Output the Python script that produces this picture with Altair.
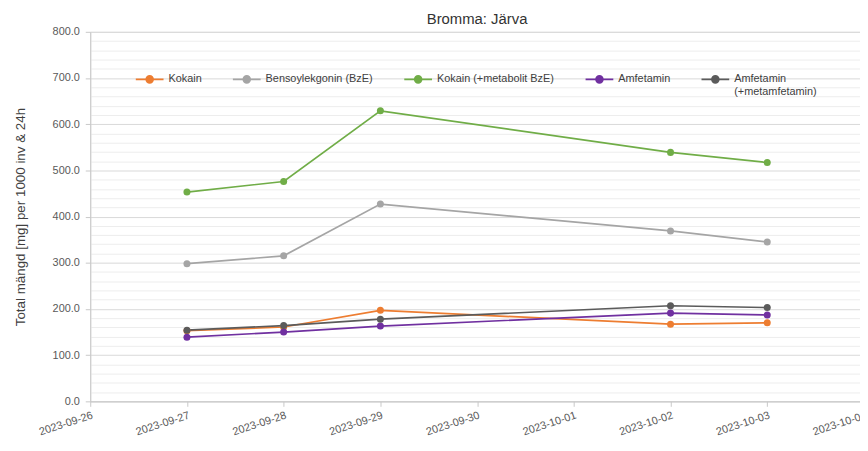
import altair as alt
import pandas as pd

dates = ["2023-09-27", "2023-09-28", "2023-09-29", "2023-10-02", "2023-10-03"]
series = ["Kokain", "Bensoylekgonin (BzE)", "Kokain (+metabolit BzE)",
          "Amfetamin", "Amfetamin (+metamfetamin)"]
kokain = [153, 161, 197, 167, 170]
bze = [298, 315, 427, 369, 345]
kokain_tot = [453, 476, 629, 539, 517]
amfetamin = [139, 150, 163, 191, 187]
amfetamin_tot = [154, 164, 178, 207, 203]
colors = ["#ED7D31", "#A5A5A5", "#70AD47", "#7030A0", "#5B5B5B"]
y_ticks = list(range(0, 801, 20))
x_days = [(2023, 9, d) for d in range(26, 31)] + [(2023, 10, d) for d in range(1, 5)]

values = [kokain, bze, kokain_tot, amfetamin, amfetamin_tot]
rows = []
for s, vals in zip(series, values):
    for d, v in zip(dates, vals):
        rows.append({"datum": d, "serie": s, "value": v})
df = pd.DataFrame(rows)

font = "Liberation Sans"
# legend symbol: short line with a dot in the middle
sym_path = "M-1,0L1,0M0.25,0A0.25,0.25,0,1,1,-0.25,0A0.25,0.25,0,1,1,0.25,0Z"

x_enc = alt.X(
    "datum:T",
    scale=alt.Scale(type="utc",
                    domain=[alt.DateTime(year=2023, month=9, date=26, utc=True),
                            alt.DateTime(year=2023, month=10, date=4, utc=True)]),
    axis=alt.Axis(
        values=[alt.DateTime(year=y, month=m, date=d, utc=True) for (y, m, d) in x_days],
        format="%Y-%m-%d", labelAngle=-18, labelAlign="right", labelBaseline="top",
        grid=False, title=None, labelFontSize=11, labelColor="#595959",
        domainColor="#c8c8c8", tickColor="#c8c8c8", tickSize=5, labelPadding=3,
        labelFont=font, labelOverlap=False, labelBound=False,
    ),
)
y_enc = alt.Y(
    "value:Q",
    scale=alt.Scale(domain=[0, 800], nice=False),
    axis=alt.Axis(
        values=y_ticks,
        labelExpr="datum.value % 100 == 0 ? format(datum.value, '.1f') : ''",
        gridColor=alt.condition("datum.value % 100 == 0", alt.value("#d9d9d9"), alt.value("#ededed")),
        tickOpacity=alt.condition("datum.value % 100 == 0", alt.value(1), alt.value(0)),
        title="Total mängd [mg] per 1000 inv & 24h",
        titleFontSize=13.5, titleFontWeight="normal", titleColor="#404040", titleFont=font,
        titlePadding=25,
        labelFontSize=11, labelColor="#595959", labelFont=font,
        domainColor="#c8c8c8", tickColor="#c8c8c8", tickSize=5, labelPadding=6,
    ),
)
color_enc = alt.Color(
    "serie:N",
    scale=alt.Scale(domain=series, range=colors),
    legend=alt.Legend(
        title=None, orient="none", direction="horizontal", columns=5,
        legendX=45, legendY=33, columnPadding=27,
        symbolType=sym_path, symbolSize=784, symbolStrokeWidth=1.7,
        labelFontSize=11, labelColor="#404040", labelFont=font, labelOffset=4,
        labelExpr="datum.label == 'Amfetamin (+metamfetamin)' ? ['Amfetamin', '(+metamfetamin)'] : [datum.label, ' ']",
    ),
)

base = alt.Chart(df).encode(x=x_enc, y=y_enc, color=color_enc)
lines = base.mark_line(strokeWidth=1.7)
points = base.mark_circle(size=50, opacity=1)

chart = (lines + points).properties(
    width=781, height=373,
    autosize=alt.AutoSizeParams(type="none"),
    padding={"left": 83, "top": 22, "right": -4, "bottom": 40},
    title=alt.TitleParams("Bromma: Järva", fontSize=15, fontWeight="normal",
                          color="#333333", font=font, anchor="middle",
                          baseline="bottom", offset=0, dy=16),
).configure_view(stroke=None).configure(background="white")

chart.save("out.html", embed_options={"renderer": "svg", "actions": False})
